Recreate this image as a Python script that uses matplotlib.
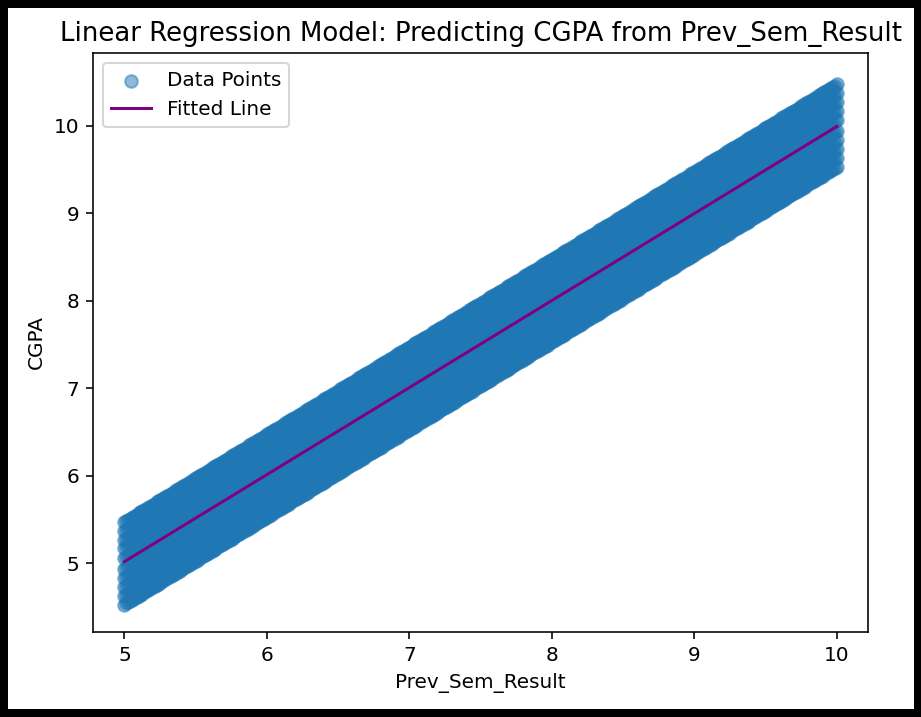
import numpy as np
import matplotlib.pyplot as plt

# band of points around y = x, about +/-0.5 wide
prev_sem = [5.0, 5.5, 6.0, 6.5, 7.0, 7.5, 8.0, 8.5, 9.0, 9.5, 10.0]
cgpa_center = [5.0, 5.5, 6.0, 6.5, 7.0, 7.5, 8.0, 8.5, 9.0, 9.5, 10.0]
band_offsets = [-0.47, -0.37, -0.27, -0.17, -0.06, 0.06, 0.17, 0.27, 0.37, 0.47]
fit_x = [5.0, 10.0]
fit_y = [5.02, 9.99]

# spread the points across the band between the read anchor values
xs = np.linspace(prev_sem[0], prev_sem[-1], 400)
centers = np.interp(xs, prev_sem, cgpa_center)
px = np.repeat(xs, len(band_offsets))
py = (centers[:, None] + np.array(band_offsets)[None, :]).ravel()

fig = plt.figure(figsize=(6.4, 4.98), dpi=144, linewidth=8, edgecolor="black")
ax = fig.add_axes([0.101, 0.119, 0.841, 0.807])
ax.scatter(px, py, s=40, alpha=0.5, color="#1f77b4", label="Data Points")
ax.plot(fit_x, fit_y, color="purple", label="Fitted Line")
ax.set_xlim(4.78, 10.22)
ax.set_ylim(4.22, 10.83)
ax.set_xlabel("Prev_Sem_Result")
ax.set_ylabel("CGPA")
ax.set_title("Linear Regression Model: Predicting CGPA from Prev_Sem_Result", fontsize=13)
ax.legend(loc="upper left")
fig.savefig("out.png", dpi=144, edgecolor=fig.get_edgecolor())
